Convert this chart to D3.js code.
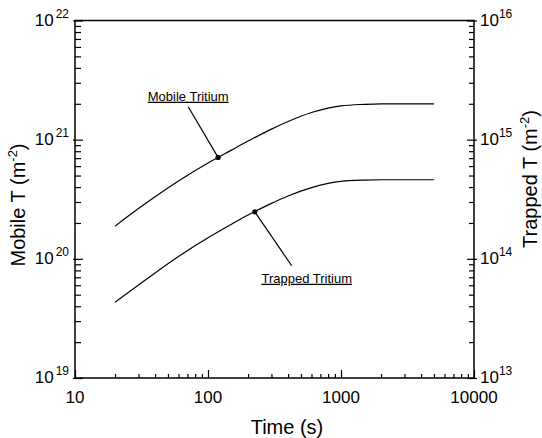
<!DOCTYPE html>
<html>
<head>
<meta charset="utf-8">
<script src="https://cdn.jsdelivr.net/npm/d3@7"></script>
<style>
body{margin:0;background:#fff;}
svg{display:block;font-family:"Liberation Sans",Arial,sans-serif;}
</style>
</head>
<body>
<div id="chart"></div>
<script>
// tick labels
var timeLabels = [10, 100, 1000, 10000];
var mobileExp = [19, 20, 21, 22];
var trappedExp = [13, 14, 15, 16];

// curves
var times    = [20, 30, 40, 60, 100, 150, 200, 300, 400, 600, 800, 1000, 1500, 2000, 3000, 5000];
var mobileT  = [1.88e20, 2.64e20, 3.32e20, 4.5e20, 6.37e20, 8.17e20, 9.73e20, 1.225e21, 1.42e21, 1.69e21, 1.84e21, 1.92e21, 1.98e21, 2.0e21, 2.0e21, 2.0e21];
var trappedT = [4.32e13, 6.04e13, 7.62e13, 1.045e14, 1.50e14, 1.95e14, 2.33e14, 2.92e14, 3.37e14, 3.96e14, 4.30e14, 4.47e14, 4.58e14, 4.61e14, 4.61e14, 4.61e14];

// annotations: [t of dot, value of dot, t of leader end, value of leader end]
var mobileNote  = [119, 7.1e20, 71, 1.89e21];
var trappedNote = [225, 2.48e14, 426, 8.75e13];

var W = 542, H = 438;
var margin = {left: 75, top: 20.5, right: 68, bottom: 60};

var svg = d3.select("#chart").append("svg").attr("width", W).attr("height", H);

var x = d3.scaleLog().domain([10, 10000]).range([margin.left, W - margin.right]);
var yL = d3.scaleLog().domain([1e19, 1e22]).range([H - margin.bottom, margin.top]);
var yR = d3.scaleLog().domain([1e13, 1e16]).range([H - margin.bottom, margin.top]);

var isPow = function(v){ return Math.abs(Math.log10(v) - Math.round(Math.log10(v))) < 1e-9; };

var xMinor = x.ticks().filter(function(v){ return !isPow(v); });
var xMajor = x.ticks().filter(isPow);
var yLMinor = yL.ticks().filter(function(v){ return !isPow(v); });
var yLMajor = yL.ticks().filter(isPow);
var yRMinor = yR.ticks().filter(function(v){ return !isPow(v); });
var yRMajor = yR.ticks().filter(isPow);

var x0 = margin.left, x1 = W - margin.right, y0 = H - margin.bottom, y1 = margin.top;

function styleAxis(g){
  g.select(".domain").remove();
  g.selectAll("line").attr("stroke", "#000").attr("stroke-width", 1.2);
}

// bottom axis, ticks inward
svg.append("g").attr("transform", "translate(0," + y0 + ")")
  .call(d3.axisTop(x).tickValues(xMinor).tickSize(4).tickFormat("")).call(styleAxis);
svg.append("g").attr("transform", "translate(0," + y0 + ")")
  .call(d3.axisTop(x).tickValues(xMajor).tickSize(8).tickFormat("")).call(styleAxis);

// left axis, ticks inward, majors poke out a little
svg.append("g").attr("transform", "translate(" + x0 + ",0)")
  .call(d3.axisRight(yL).tickValues(yLMinor).tickSize(6).tickFormat("")).call(styleAxis);
svg.append("g").attr("transform", "translate(" + x0 + ",0)")
  .call(d3.axisRight(yL).tickValues(yLMajor).tickSize(8).tickFormat("")).call(styleAxis);
svg.append("g").attr("transform", "translate(" + x0 + ",0)")
  .call(d3.axisLeft(yL).tickValues(yLMajor).tickSize(2).tickFormat("")).call(styleAxis);

// right axis
svg.append("g").attr("transform", "translate(" + x1 + ",0)")
  .call(d3.axisLeft(yR).tickValues(yRMinor).tickSize(5).tickFormat("")).call(styleAxis);
svg.append("g").attr("transform", "translate(" + x1 + ",0)")
  .call(d3.axisLeft(yR).tickValues(yRMajor).tickSize(7).tickFormat("")).call(styleAxis);
svg.append("g").attr("transform", "translate(" + x1 + ",0)")
  .call(d3.axisRight(yR).tickValues(yRMajor).tickSize(3).tickFormat("")).call(styleAxis);

// frame
svg.append("rect").attr("x", x0).attr("y", y1).attr("width", x1 - x0).attr("height", y0 - y1)
  .attr("fill", "none").attr("stroke", "#000").attr("stroke-width", 1.5);

// x tick labels
svg.append("g").selectAll("text").data(timeLabels).enter().append("text")
  .attr("x", function(d){ return x(d); }).attr("y", y0 + 25)
  .attr("text-anchor", "middle").attr("font-size", 17).text(function(d){ return d; });

// y tick labels with superscripts
var lt = svg.append("g").selectAll("text").data(mobileExp).enter().append("text")
  .attr("x", x0 - 6).attr("y", function(d){ return yL(Math.pow(10, d)) + 5; })
  .attr("text-anchor", "end").attr("font-size", 17);
lt.append("tspan").text("10");
lt.append("tspan").attr("dx", 2).attr("dy", -8).attr("font-size", 12).text(function(d){ return d; });

var rt = svg.append("g").selectAll("text").data(trappedExp).enter().append("text")
  .attr("x", x1 + 6).attr("y", function(d){ return yR(Math.pow(10, d)) + 5; })
  .attr("text-anchor", "start").attr("font-size", 17);
rt.append("tspan").text("10");
rt.append("tspan").attr("dy", -8).attr("font-size", 12).text(function(d){ return d; });

// axis titles
svg.append("text").attr("x", 287).attr("y", 434).attr("text-anchor", "middle")
  .attr("font-size", 20).text("Time (s)");

var tl = svg.append("text").attr("transform", "translate(25,205) rotate(-90)")
  .attr("text-anchor", "middle").attr("font-size", 20);
tl.append("tspan").text("Mobile T (m");
tl.append("tspan").attr("dy", -8).attr("font-size", 13).text("-2");
tl.append("tspan").attr("dy", 8).text(")");

var tr = svg.append("text").attr("transform", "translate(537,179) rotate(-90)")
  .attr("text-anchor", "middle").attr("font-size", 20);
tr.append("tspan").text("Trapped T (m");
tr.append("tspan").attr("dy", -8).attr("font-size", 13).text("-2");
tr.append("tspan").attr("dy", 8).text(")");

// curves
var mobileLine = d3.line().curve(d3.curveMonotoneX)
  .x(function(d, i){ return x(times[i]); }).y(function(d){ return yL(d); });
var trappedLine = d3.line().curve(d3.curveMonotoneX)
  .x(function(d, i){ return x(times[i]); }).y(function(d){ return yR(d); });

svg.append("path").datum(mobileT).attr("d", mobileLine)
  .attr("fill", "none").attr("stroke", "#000").attr("stroke-width", 1.2);
svg.append("path").datum(trappedT).attr("d", trappedLine)
  .attr("fill", "none").attr("stroke", "#000").attr("stroke-width", 1.2);

// annotations
function note(n, ys, label, dx, dy){
  var px = x(n[0]), py = ys(n[1]), qx = x(n[2]), qy = ys(n[3]);
  svg.append("line").attr("x1", px).attr("y1", py).attr("x2", qx).attr("y2", qy)
    .attr("stroke", "#000").attr("stroke-width", 1.2);
  svg.append("circle").attr("cx", px).attr("cy", py).attr("r", 2.6).attr("fill", "#000");
  svg.append("text").attr("x", qx + dx).attr("y", qy + dy).attr("text-anchor", "middle")
    .attr("font-size", 13).attr("text-decoration", "underline").text(label);
}
note(mobileNote, yL, "Mobile Tritium", 0, -6);
note(trappedNote, yR, "Trapped Tritium", 15, 17);
</script>
</body>
</html>
